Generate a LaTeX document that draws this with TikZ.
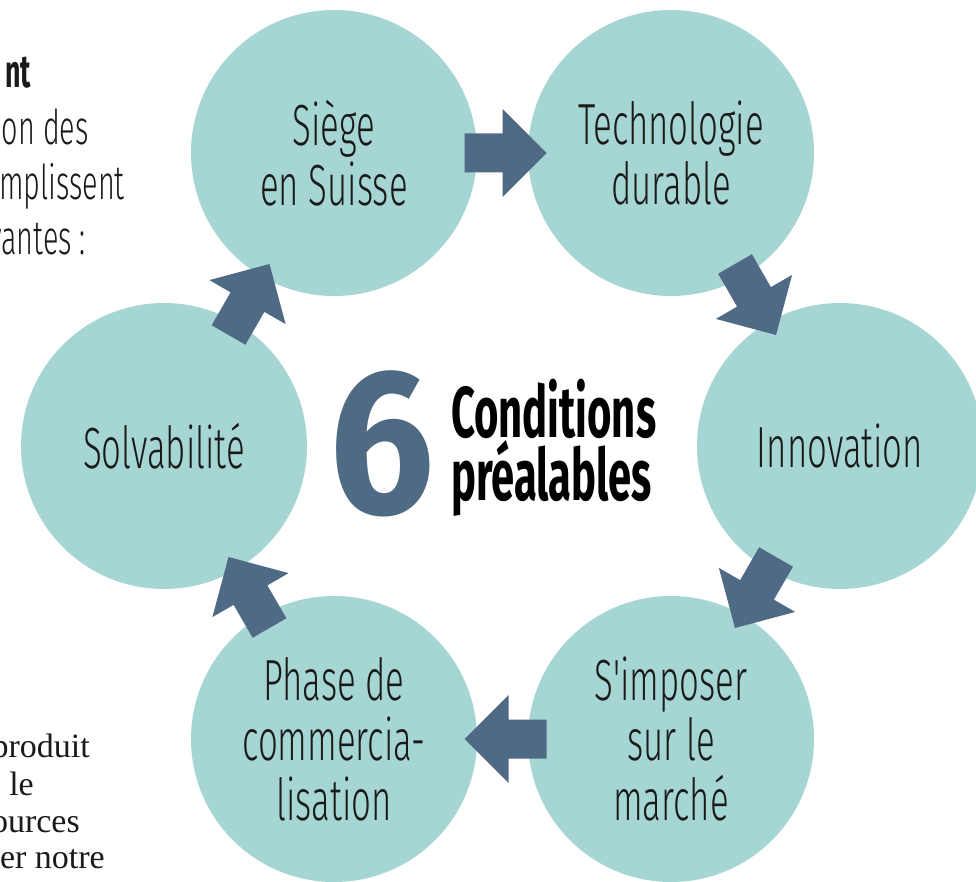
\documentclass[tikz,border=0pt]{standalone}
\usepackage{fontspec}
\setmainfont{Liberation Serif}
\newfontfamily\lightfont{Fira Sans}[UprightFont=* Light, FakeStretch=0.6]
\newfontfamily\condbold{Fira Sans}[UprightFont=* Bold, FakeStretch=0.58]
\newfontfamily\sixfont{Fira Sans}[UprightFont=* Bold, FakeStretch=0.9]
\usetikzlibrary{calc}
\definecolor{circc}{HTML}{A5D6D3}
\definecolor{arrowc}{HTML}{4F6A84}
\definecolor{textc}{HTML}{1A1A1A}
\tikzset{
  circ/.style={circle, fill=circc, draw=none, minimum size=286pt, inner sep=0pt,
    align=center, text=textc, font=\lightfont\fontsize{58}{60}\selectfont},
  sidetext/.style={anchor=base east, inner sep=0pt, text=textc, font=\lightfont\fontsize{48}{50}\selectfont},
  sidebold/.style={anchor=base east, inner sep=0pt, text=textc, font=\condbold\fontsize{46}{50}\selectfont},
  seriftext/.style={anchor=base east, inner sep=0pt, text=textc, font=\fontsize{34}{37}\selectfont},
  titletext/.style={anchor=base west, inner sep=0pt, align=left, text=black, font=\condbold\fontsize{72}{58}\selectfont},
  pics/bigarrow/.style={code={
    \fill[arrowc] (-41,-19.5) -- (-3,-19.5) -- (-3,-44) -- (41,0) -- (-3,44) -- (-3,19.5) -- (-41,19.5) -- cycle;}}
}
\begin{document}
\begin{tikzpicture}[x=1pt,y=-1pt]
\useasboundingbox (0,0) rectangle (976,882);
\fill[white] (0,0) rectangle (976,882);
% side fragments
\node[sidebold] (t1) at (31,88) {nt};
\node[sidetext] (t2) at (89,145) {on des};
\node[sidetext] (t3) at (125,200) {mplissent};
\node[sidetext] (t4) at (86,255) {vantes\,:};
\node[seriftext] (s1) at (90,757) {produit};
\node[seriftext] (s2) at (34,795) {le};
\node[seriftext] (s3) at (80,832) {ources};
\node[seriftext] (s4) at (105,868) {er notre};
% circles
\node[circ] (siege) at (334,153) {Siège\\en Suisse};
\node[circ] (tech) at (671,153) {Technologie\\durable};
\node[circ] (innov) at (840,446) {Innovation};
\node[circ] (impo) at (671,739) {S'imposer\\sur le\\marché};
\node[circ] (phase) at (334,739) {Phase de\\commercia-\\lisation};
\node[circ] (solv) at (164,446) {Solvabilité};
% arrows
\pic at ($(siege)!0.5!(tech)+(3,0)$) {bigarrow};
\pic[rotate=-60] at ($(tech)!0.5!(innov)$) {bigarrow};
\pic[rotate=-120] at ($(innov)!0.5!(impo)$) {bigarrow};
\pic[rotate=180] at ($(impo)!0.5!(phase)+(3,0)$) {bigarrow};
\pic[rotate=120] at ($(phase)!0.5!(solv)$) {bigarrow};
\pic[rotate=60] at ($(solv)!0.5!(siege)$) {bigarrow};
% center title
\node[inner sep=0pt, text=arrowc, font=\sixfont\fontsize{207}{207}\selectfont] (six) at (382.5,443.5) {6};
\node[titletext] (title) at (451,500) {Conditions\\préalables};
\end{tikzpicture}
\end{document}
